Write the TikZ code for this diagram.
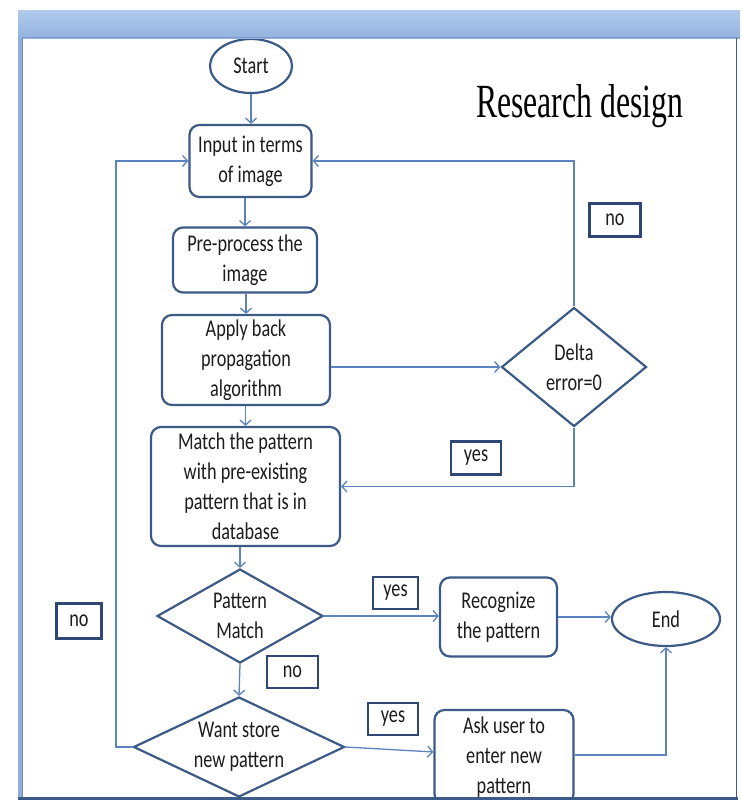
\documentclass[tikz,border=0pt]{standalone}
\usepackage{fontspec}
\setmainfont{Carlito}[FakeStretch=0.76]
\newfontfamily\titlefont{Liberation Serif}
\usetikzlibrary{shapes.geometric,arrows.meta}
\definecolor{nodeb}{HTML}{3B5A86}
\definecolor{conn}{HTML}{5B84BE}
\definecolor{lblb}{HTML}{2E4775}
\definecolor{hdrtop}{HTML}{B2CBEE}
\definecolor{hdrbot}{HTML}{93B2DE}
\definecolor{hdrline}{HTML}{7D9BC9}
\definecolor{sideb}{HTML}{8EAEDF}
\definecolor{frameb}{HTML}{3D5A88}
\definecolor{txt}{HTML}{1C1C1C}
\newcommand\bodyfs{\fontsize{24pt}{30pt}\selectfont}
\begin{document}
\begin{tikzpicture}[x=1pt,y=-1pt,
  box/.style={draw=nodeb, line width=2.2pt, rounded corners=10pt, fill=white,
    align=center, font=\bodyfs, text=txt, inner sep=2pt},
  oval/.style={ellipse, draw=nodeb, line width=2.2pt, fill=white,
    align=center, font=\bodyfs, text=txt, inner sep=0pt},
  decide/.style={diamond, draw=nodeb, line width=2.2pt, fill=white,
    align=center, font=\bodyfs, text=txt, inner sep=0pt},
  lbl/.style={draw=lblb, line width=2.2pt, fill=white, font=\bodyfs,
    text=txt, inner sep=0pt},
  conn/.style={draw=conn, line width=1.3pt, -{Straight Barb[length=5pt,width=11pt]}},
  plain/.style={draw=conn, line width=1.3pt}]
% page
\fill[white] (0,0) rectangle (740,801);
\useasboundingbox (0,0) rectangle (740,801);
\begin{scope}
\clip (22,38) rectangle (736,798);
% nodes
\node[oval, minimum width=82pt, minimum height=54pt] (start) at (251,66) {Start};
\node[box, minimum width=122pt, minimum height=72pt] (input) at (250.5,161) {Input in terms\\of image};
\node[box, minimum width=144pt, minimum height=65pt] (pre) at (245,260) {Pre-process the\\image};
\node[box, minimum width=168pt, minimum height=90pt] (apply) at (246,360) {Apply back\\propagation\\algorithm};
\node[decide, aspect=1, minimum width=145pt, minimum height=119pt] (delta) at (574,367) {Delta\\error=0};
\node[box, minimum width=189pt, minimum height=119pt] (match) at (245.5,486.5) {Match the pattern\\with pre-existing\\pattern that is in\\database};
\node[decide, aspect=1.5, minimum width=166pt, minimum height=94pt] (pm) at (240,616) {Pattern\\Match};
\node[box, minimum width=117pt, minimum height=79pt] (rec) at (498.5,617) {Recognize\\the pattern};
\node[oval, minimum width=108pt, minimum height=54pt] (end) at (666,619) {End};
\node[decide, aspect=2, minimum width=211pt, minimum height=100pt] (want) at (239,747) {Want store\\new pattern};
\node[box, minimum width=139pt, minimum height=94pt] (ask) at (504,757) {Ask user to\\enter new\\pattern};
% labels
\node[lbl, minimum width=51pt, minimum height=33pt] (no1) at (615,220) {no};
\node[lbl, minimum width=50pt, minimum height=33pt] (yes1) at (476,458) {yes};
\node[lbl, minimum width=45pt, minimum height=32pt] (yes2) at (395.5,593) {yes};
\node[lbl, minimum width=51pt, minimum height=32pt] (no2) at (292.5,672) {no};
\node[lbl, minimum width=50pt, minimum height=32pt] (yes3) at (393,719) {yes};
\node[lbl, minimum width=45pt, minimum height=35pt] (no3) at (79,621) {no};
% title
\node[anchor=base west, inner sep=0pt, text=black] (title) at (476,117)
  {\resizebox{207pt}{33pt}{\titlefont Research design}};
% connectors
\coordinate (lp) at (116,747);
\draw[conn] (start.south) -- (start.south |- input.north);
\draw[conn] (input.south -| pre.north) -- (pre.north);
\draw[conn] (pre.south -| apply.north) -- (apply.north);
\draw[conn] (apply.east |- delta.west) -- (delta.west);
\draw[conn] (delta.north) |- (input.east);
\draw[conn] (delta.south) |- (match.east);
\draw[conn] (apply.south -| match.north) -- (match.north);
\draw[conn] (match.south -| pm.north) -- (pm.north);
\draw[conn] (pm.east) -- (pm.east -| rec.west);
\draw[conn] (rec.east) -- (rec.east -| end.west);
\draw[conn] (pm.south) -- (want.north);
\draw[conn] (want.east) -- ([yshift=5pt]ask.west);
\draw[conn] ([yshift=2pt]ask.east) -| (end.south);
\draw[conn] (want.west) -- (lp) |- (input.west);
\end{scope}
% frame
\shade[top color=hdrtop, bottom color=hdrbot] (18,10) rectangle (740,38);
\draw[hdrline, line width=1.2pt] (22,37.4) -- (740,37.4);
\fill[sideb] (18,38) rectangle (22,800);
\draw[frameb!70, line width=0.8pt] (22,38) -- (22,798);
\draw[frameb, line width=1.8pt] (736.5,38) -- (736.5,799);
\draw[frameb, line width=3pt] (18,798.5) -- (738,798.5);
\end{tikzpicture}
\end{document}
